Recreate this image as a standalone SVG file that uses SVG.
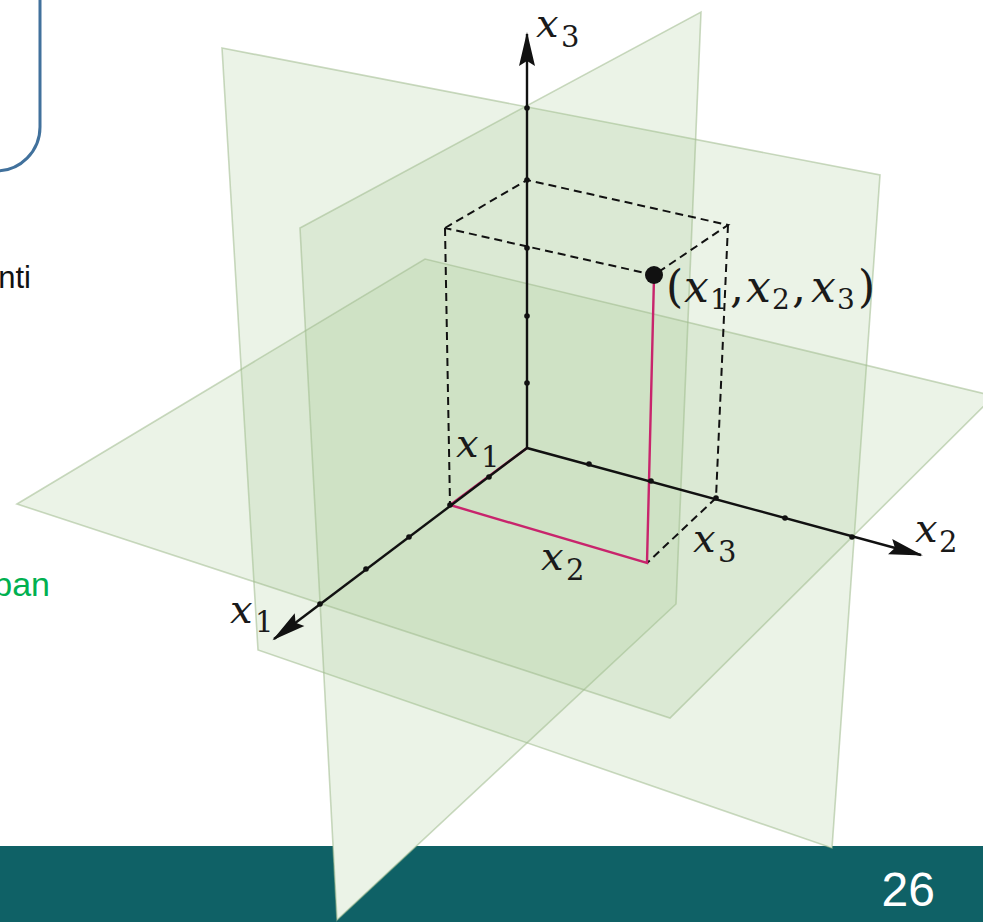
<svg xmlns="http://www.w3.org/2000/svg" width="983" height="922" viewBox="0 0 983 922">
<defs>
<style>
.ul{fill:#fff;stroke:none}
.pl{fill:#a6c890;fill-opacity:0.22;stroke:#9fb98c;stroke-opacity:0.55;stroke-width:1.6}
.ax{stroke:#111;stroke-width:2.4;fill:none}
.ds{stroke:#111;stroke-width:2;stroke-dasharray:8 5;fill:none}
.mg{stroke:#c8246c;stroke-width:2.4;fill:none}
.tk{fill:#111}
.m{font-family:"DejaVu Serif","Liberation Serif",serif;fill:#1a1a1a}
.mi{font-style:italic}
</style>
<marker id="ah" markerUnits="userSpaceOnUse" markerWidth="40" markerHeight="24" refX="0" refY="0" viewBox="-34 -12 40 24" orient="auto" overflow="visible">
<path d="M2,0 L-32,-8 L-27,0 L-32,8 Z" fill="#111"/>
</marker>
</defs>
<rect x="0" y="0" width="983" height="922" fill="#fff"/>
<rect id="box" x="-60" y="-60" width="100" height="231" rx="44" fill="none" stroke="#41719c" stroke-width="3"/>
<text x="31" y="288" text-anchor="end" font-family="Liberation Sans, Arial, sans-serif" font-size="31" fill="#111">nti</text>
<text x="50" y="596" text-anchor="end" font-family="Liberation Sans, Arial, sans-serif" font-size="34" fill="#00b050">pan</text>
<rect id="bar" x="0" y="846" width="983" height="76" fill="#0f6166"/>
<text x="935" y="906" text-anchor="end" font-family="Liberation Sans, Arial, sans-serif" font-size="48" fill="#fff">26</text>
<g id="planes">
<polygon class="ul" points="222,48 880,175 832,848 258,650"/>
<polygon class="ul" points="300,228 701,12 676,604 337,920"/>
<polygon class="ul" points="17,504 425,259 994,396 670,718"/>
<polygon id="plane-x2x3" class="pl" points="222,48 880,175 832,848 258,650"/>
<polygon id="plane-x1x3" class="pl" points="300,228 701,12 676,604 337,920"/>
<polygon id="plane-x1x2" class="pl" points="17,504 425,259 994,396 670,718"/>
</g>
<g id="box-lines">
<polyline class="ds" points="445,228 527,180 728,225 654,275 445,228"/>
<line class="ds" x1="445" y1="228" x2="450" y2="505"/>
<line class="ds" x1="728" y1="225" x2="716" y2="498"/>
<line class="ds" x1="716" y1="498" x2="647" y2="563"/>
</g>
<g id="magenta">
<polyline class="mg" points="527,448 450,505 647,563 654,277"/>
</g>
<g id="axes">
<line class="ax" x1="527" y1="448" x2="527" y2="34" marker-end="url(#ah)"/>
<line class="ax" x1="527" y1="448" x2="274" y2="639" marker-end="url(#ah)"/>
<line class="ax" x1="527" y1="448" x2="921" y2="555" marker-end="url(#ah)"/>
</g>
<g id="ticks">
<circle class="tk" cx="527" cy="108" r="2.8"/>
<circle class="tk" cx="527" cy="180" r="2.8"/>
<circle class="tk" cx="527" cy="248" r="2.8"/>
<circle class="tk" cx="527" cy="316" r="2.8"/>
<circle class="tk" cx="527" cy="383" r="2.8"/>
<circle class="tk" cx="489" cy="477" r="2.8"/>
<circle class="tk" cx="450" cy="505" r="2.8"/>
<circle class="tk" cx="409" cy="537" r="2.8"/>
<circle class="tk" cx="366" cy="569" r="2.8"/>
<circle class="tk" cx="320" cy="604" r="2.8"/>
<circle class="tk" cx="589" cy="464" r="2.8"/>
<circle class="tk" cx="651" cy="481" r="2.8"/>
<circle class="tk" cx="716" cy="498" r="2.8"/>
<circle class="tk" cx="785" cy="518" r="2.8"/>
<circle class="tk" cx="852" cy="537" r="2.8"/>
<circle id="point" cx="654" cy="275" r="9" fill="#111"/>
</g>
<g id="labels">
<text class="m" y="37"><tspan class="mi" x="536" font-size="40">x</tspan><tspan x="561" y="47" font-size="29">3</tspan></text>
<text class="m" y="623"><tspan class="mi" x="230" font-size="40">x</tspan><tspan x="255" y="632" font-size="29">1</tspan></text>
<text class="m" y="542"><tspan class="mi" x="915" font-size="40">x</tspan><tspan x="939" y="552" font-size="29">2</tspan></text>
<text class="m" y="457"><tspan class="mi" x="456" font-size="40">x</tspan><tspan x="481" y="467" font-size="29">1</tspan></text>
<text class="m" y="570"><tspan class="mi" x="541" font-size="40">x</tspan><tspan x="566" y="580" font-size="29">2</tspan></text>
<text class="m" y="552"><tspan class="mi" x="693" font-size="40">x</tspan><tspan x="718" y="562" font-size="29">3</tspan></text>
<text class="m" y="302"><tspan x="666" font-size="44">(</tspan><tspan class="mi" x="684" font-size="44">x</tspan><tspan x="710" y="309" font-size="28">1</tspan><tspan x="730" y="302" font-size="44">,</tspan><tspan class="mi" x="746" font-size="44">x</tspan><tspan x="772" y="309" font-size="28">2</tspan><tspan x="792" y="302" font-size="44">,</tspan><tspan class="mi" x="811" font-size="44">x</tspan><tspan x="837" y="309" font-size="28">3</tspan><tspan x="858" y="302" font-size="44">)</tspan></text>
</g>
</svg>
